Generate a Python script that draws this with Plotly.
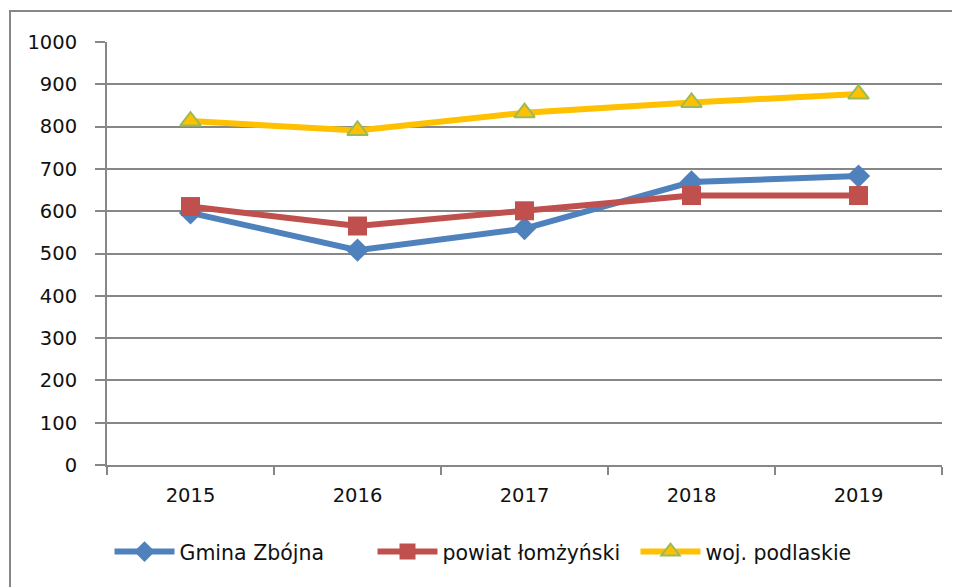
import plotly.graph_objects as go

years = ["2015", "2016", "2017", "2018", "2019"]
gmina = [596, 508, 559, 669, 683]
powiat = [611, 565, 601, 637, 637]
woj = [813, 791, 833, 857, 877]
y_ticks = [0, 100, 200, 300, 400, 500, 600, 700, 800, 900, 1000]

FONT = "DejaVu Sans"
GRID = "#878787"
W, H = 952, 579
L, R, T, B = 99, 18, 34, 122
PW, PH = W - L - R, H - T - B

fig = go.Figure()
fig.add_trace(go.Scatter(
    x=years, y=gmina, name="Gmina Zbójna", mode="lines+markers",
    line=dict(color="#4F81BD", width=6),
    marker=dict(symbol="diamond", size=18, color="#4F81BD"),
))
fig.add_trace(go.Scatter(
    x=years, y=powiat, name="powiat łomżyński", mode="lines+markers",
    line=dict(color="#C0504D", width=6),
    marker=dict(symbol="square", size=19, color="#C0504D"),
))
fig.add_trace(go.Scatter(
    x=years, y=woj, name="woj. podlaskie", mode="lines+markers",
    line=dict(color="#FFC000", width=6),
    marker=dict(symbol="triangle-up", size=18, color="#FFC000",
                line=dict(color="#9BBB59", width=2)),
))

fig.update_layout(
    width=W, height=H,
    margin=dict(l=L, r=R, t=T, b=B, autoexpand=False),
    paper_bgcolor="white", plot_bgcolor="white",
    font=dict(family=FONT, size=19.5, color="#111111"),
    showlegend=True,
    legend=dict(orientation="h", x=0.003, xanchor="left", y=-0.205, yanchor="middle",
                font=dict(family=FONT, size=20.5), itemwidth=60,
                entrywidth=188, entrywidthmode="pixels", tracegroupgap=0),
    xaxis=dict(type="category", showgrid=False, showline=True, linecolor=GRID, linewidth=2,
               ticks="outside", tickson="boundaries", ticklen=8, tickcolor=GRID, tickwidth=2,
               range=[-0.5, 4.5], ticklabelstandoff=12),
    yaxis=dict(range=[0, 1000], tickvals=y_ticks, showgrid=True, gridcolor=GRID, gridwidth=2,
               showline=True, linecolor=GRID, linewidth=2, ticks="outside", ticklen=10,
               tickcolor=GRID, tickwidth=2, zeroline=False, ticklabelstandoff=14),
    shapes=[dict(type="rect", xref="paper", yref="paper",
                 x0=(2 - L) / PW, x1=(980 - L) / PW,
                 y0=(PH + T - 600) / PH, y1=1 + (T - 3) / PH,
                 line=dict(color=GRID, width=2), fillcolor="rgba(0,0,0,0)", layer="below")],
)

fig.write_html("out.html")
